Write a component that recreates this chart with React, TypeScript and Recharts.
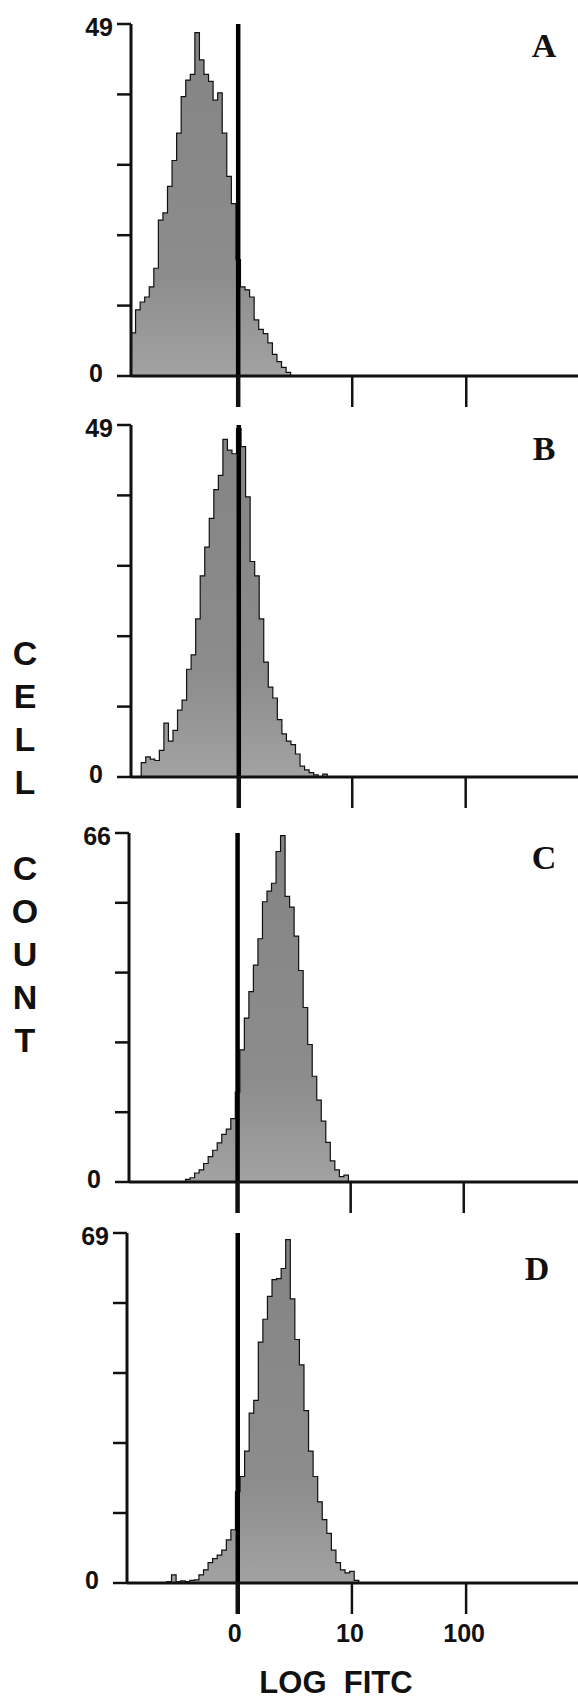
import React from "react";
import { ComposedChart, Area, XAxis, YAxis, ReferenceLine } from "recharts";

// LOG FITC axis in channel units: 100 units = one decade, 0 = the "0" tick
const binStart = -94;
const binStep = 4;

const panelLetters = ["A", "B", "C", "D"];
const yMaxes = [49, 49, 66, 69];
const xTickValues = [0, 100, 200];
const xTickLabels = ["0", "10", "100"];
const yTitle = "CELL COUNT";
const xTitle = "LOG  FITC";

// cell counts per bin
const countsA = [
  6, 9.2, 10.3, 11, 12.4, 15, 21.7, 22.7, 26.4, 30, 33.8, 38.9, 41.2, 42, 47.8, 44, 42, 41,
  38.4, 39.4, 33.8, 27.8, 24, 16.2, 12.4, 12, 11, 7.8, 6.5, 5.9, 4.6, 3, 2, 1.2, 0.5, 0,
];
const countsB = [
  0, 0, 2, 2.8, 2.5, 2.3, 3.7, 7.5, 5, 6.5, 9.3, 10.7, 15, 17, 22, 28, 32, 36, 40, 42, 47,
  45.5, 45, 48.5, 46, 39, 30, 28, 22, 16, 12.5, 11, 8, 6, 5, 4.5, 3.2, 1.5, 1, 0.6, 0.3, 0,
  0.4, 0,
];
const countsC = [
  0, 0, 0, 0, 0, 0, 0, 0, 0, 0, 0, 0, 0.5, 0.8, 1.7, 2.3, 3.5, 4.8, 6, 7.4, 9, 10, 12, 17,
  25, 31, 36, 41, 46, 53, 55, 56.5, 62.5, 65.5, 54, 52, 46.5, 40, 33, 26, 20, 15.5, 11.5,
  7.5, 4, 2.3, 1, 1.3, 0,
];
const countsD = [
  0, 0, 0, 0, 0, 0, 0, 0, 0.3, 1.6, 0.3, 0.4, 0.3, 0.5, 0.6, 1.6, 2.6, 4, 4.8, 5.5, 6.5,
  8.5, 10.5, 18, 21, 26, 33.5, 36, 47.5, 52, 56.5, 59.8, 60, 62, 67.7, 56, 48, 43, 34, 26,
  21, 16, 12.5, 9.8, 6.5, 4, 2.6, 2, 2.3, 0.5, 0,
];

const SANS = '"Liberation Sans", Arial, Helvetica, sans-serif';
const SERIF = '"Liberation Serif", "Times New Roman", serif';
const INK = "#111";

const panels = [
  { counts: countsA, top: 24, bottom: 376, left: 131, domain: [-94, 298], letterAt: [544, 45] },
  { counts: countsB, top: 425, bottom: 777, left: 131, domain: [-95, 299], letterAt: [544, 448] },
  { counts: countsC, top: 833, bottom: 1182, left: 129, domain: [-96, 301], letterAt: [544, 857] },
  { counts: countsD, top: 1233, bottom: 1583, left: 127, domain: [-97, 298], letterAt: [537, 1268] },
];

function toRows(counts: number[]) {
  return counts.map((n, i) => ({ u: binStart + i * binStep, n }));
}

function XTick(props: any) {
  const { x, y, payload, showLabel } = props;
  const v = payload.value;
  const label = xTickLabels[xTickValues.indexOf(v)];
  return (
    <g>
      <line x1={x} x2={x} y1={y - 31} y2={y} stroke={INK} strokeWidth={v === 0 ? 4.5 : 2.5} />
      {showLabel && (
        <text
          x={v === 0 ? x - 3 : x - 2}
          y={y + 19}
          textAnchor="middle"
          dominantBaseline="central"
          fontFamily={SANS}
          fontWeight="bold"
          fontSize={25}
          fill={INK}
        >
          {label}
        </text>
      )}
    </g>
  );
}

function YTick(props: any) {
  const { x, y, payload, yMax } = props;
  const v = payload.value;
  if (v !== 0 && v !== yMax) return null;
  return (
    <text
      x={v === 0 ? x - 10 : x}
      y={v === 0 ? y - 3 : y + 3}
      textAnchor="end"
      dominantBaseline="central"
      fontFamily={SANS}
      fontWeight="bold"
      fontSize={25}
      fill={INK}
    >
      {v}
    </text>
  );
}

function Panel({ idx }: { idx: number }) {
  const p = panels[idx];
  const yMax = yMaxes[idx];
  const yTicks = [0, 1, 2, 3, 4, 5].map((k) => (k * yMax) / 5);
  const gradId = `histFill${idx}`;
  const padTop = 20;
  const axisH = 80;
  return (
    <div style={{ position: "absolute", left: 0, top: p.top - padTop }}>
      <ComposedChart
        width={578}
        height={p.bottom - p.top + padTop + axisH}
        data={toRows(p.counts)}
        margin={{ top: padTop, right: 0, bottom: 0, left: 0 }}
      >
        <defs>
          <linearGradient id={gradId} x1="0" y1="0" x2="0" y2="1">
            <stop offset="0%" stopColor="#848484" />
            <stop offset="70%" stopColor="#8c8c8c" />
            <stop offset="100%" stopColor="#a2a2a2" />
          </linearGradient>
        </defs>
        <Area
          type="stepAfter"
          dataKey="n"
          stroke={INK}
          strokeWidth={1.2}
          fill={`url(#${gradId})`}
          fillOpacity={1}
          dot={false}
          activeDot={false}
          isAnimationActive={false}
        />
        <ReferenceLine x={0} stroke="#000" strokeWidth={4.5} />
        <XAxis
          dataKey="u"
          type="number"
          domain={p.domain}
          allowDataOverflow
          ticks={xTickValues}
          interval={0}
          height={axisH}
          tickSize={31}
          tickMargin={0}
          tickLine={false}
          axisLine={{ stroke: INK, strokeWidth: 3 }}
          tick={(props: any) => <XTick {...props} showLabel={idx === 3} />}
        />
        <YAxis
          type="number"
          domain={[0, yMax]}
          allowDataOverflow
          ticks={yTicks}
          interval={0}
          width={p.left}
          tickSize={14}
          tickMargin={4}
          axisLine={{ stroke: INK, strokeWidth: 3 }}
          tickLine={{ stroke: INK, strokeWidth: 2.5 }}
          tick={(props: any) => <YTick {...props} yMax={yMax} />}
        />
      </ComposedChart>
    </div>
  );
}

export default function App() {
  const titleLetters = yTitle.split("");
  return (
    <div
      style={{
        position: "absolute",
        left: 0,
        top: 0,
        width: 578,
        height: 1701,
        background: "#fff",
        overflow: "hidden",
      }}
    >
      {panels.map((_, i) => (
        <Panel key={i} idx={i} />
      ))}
      <svg
        width={578}
        height={1701}
        style={{ position: "absolute", left: 0, top: 0, pointerEvents: "none" }}
      >
        {panels.map((p, i) => (
          <text
            key={panelLetters[i]}
            x={p.letterAt[0]}
            y={p.letterAt[1]}
            textAnchor="middle"
            dominantBaseline="central"
            fontFamily={SERIF}
            fontWeight="bold"
            fontSize={34}
            fill={INK}
          >
            {panelLetters[i]}
          </text>
        ))}
        {titleLetters.map((ch, i) => (
          <text
            key={i}
            x={25}
            y={653 + i * 43}
            textAnchor="middle"
            dominantBaseline="central"
            fontFamily={SANS}
            fontWeight="bold"
            fontSize={34}
            fill={INK}
          >
            {ch}
          </text>
        ))}
        <text
          x={336}
          y={1693}
          textAnchor="middle"
          fontFamily={SANS}
          fontWeight="bold"
          fontSize={31}
          fill={INK}
          style={{ whiteSpace: "pre" }}
        >
          {xTitle}
        </text>
      </svg>
    </div>
  );
}
